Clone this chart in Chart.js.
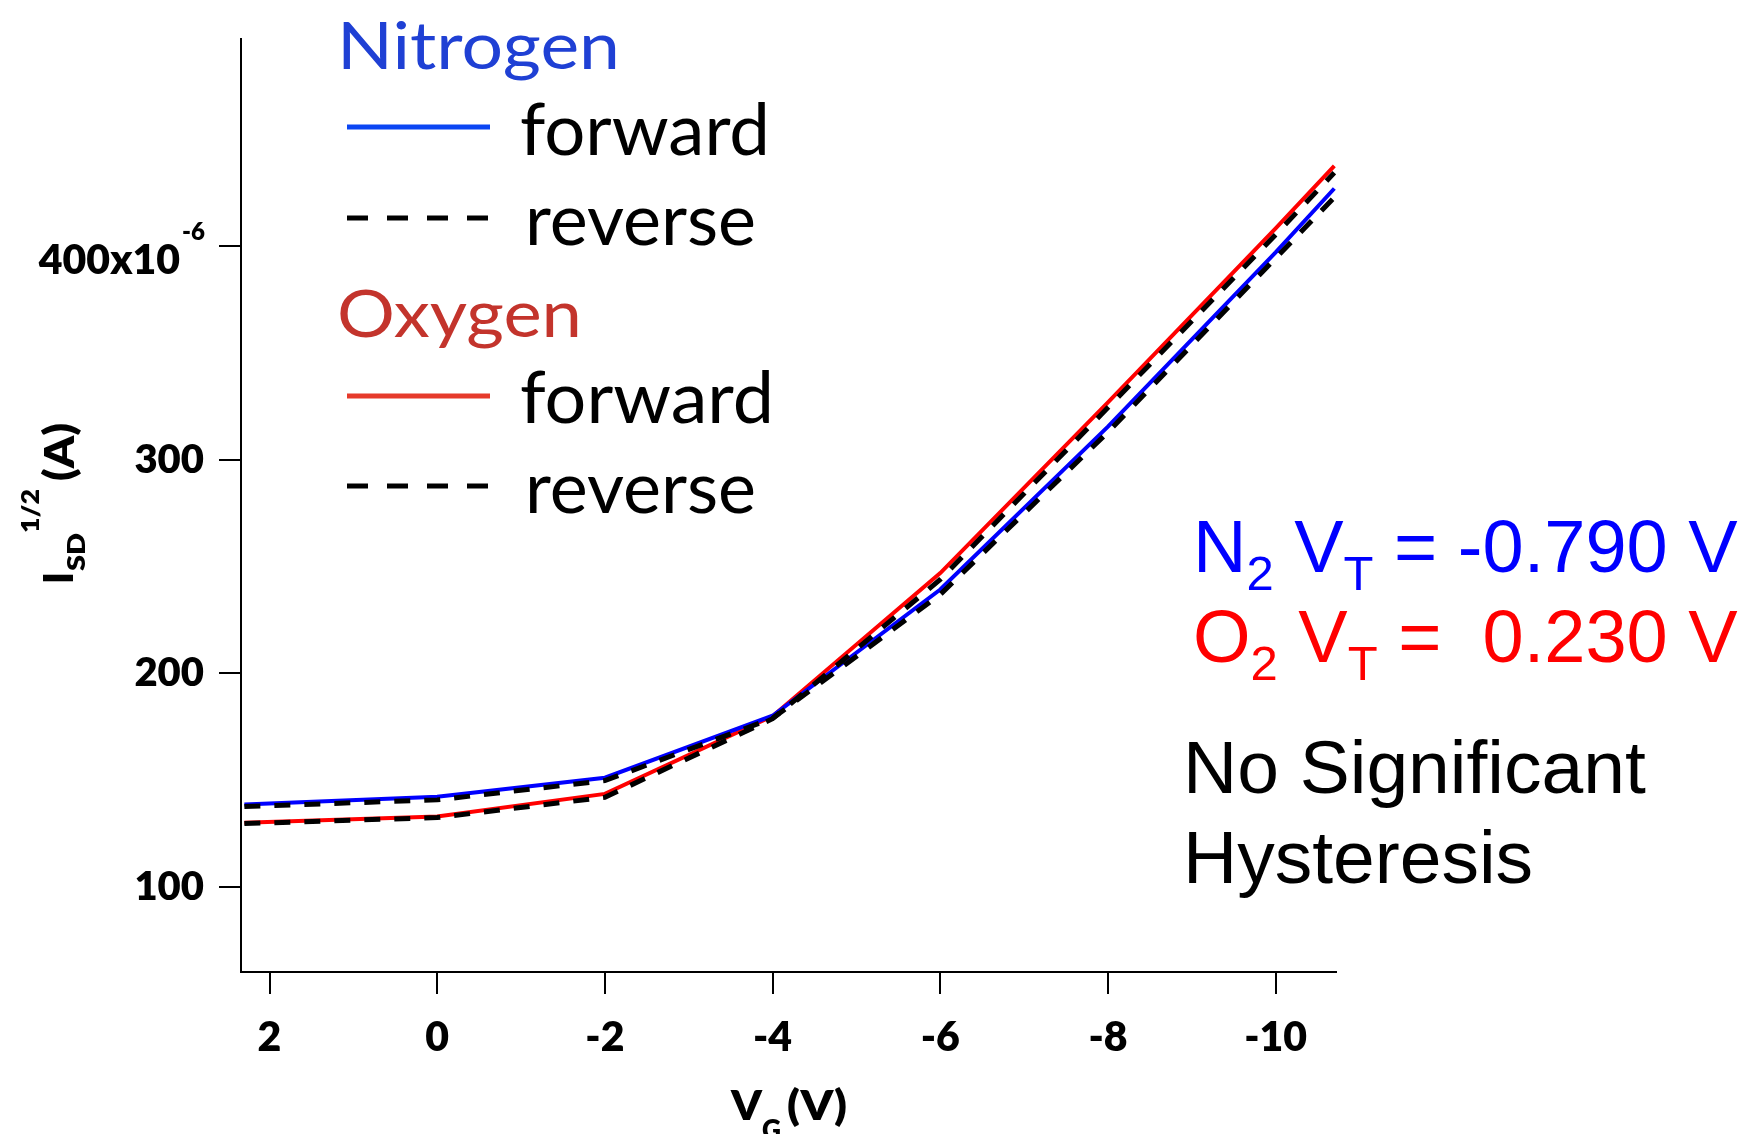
<!DOCTYPE html>
<html>
<head>
<meta charset="utf-8">
<script src="https://cdn.jsdelivr.net/npm/chart.js@4.4.0/dist/chart.umd.min.js"></script>
<style>
  html, body { margin: 0; padding: 0; background: #fff; }
  canvas { display: block; }
</style>
</head>
<body>
<canvas id="myChart" width="1752" height="1134"></canvas>
<script>
// gate voltage sweep (V)
const vg = [2.3, 0, -2, -4, -6, -8, -10, -10.7];
// sqrt(I_SD), in units of 1e-6
const n2Forward = [138.6, 142.3, 151.2, 180.2, 239.3, 315.6, 397.2, 427.1];
const n2Reverse = [137.7, 140.8, 149.8, 179.0, 237.0, 313.0, 394.5, 422.9];
const o2Forward = [130.1, 133.0, 143.6, 180.0, 247.0, 326.9, 408.4, 437.7];
const o2Reverse = [129.7, 132.5, 142.0, 178.8, 244.0, 324.5, 405.5, 434.5];

const xTicks = [2, 0, -2, -4, -6, -8, -10];
const yTicks = [100, 200, 300, 400];

const vtN2 = '-0.790';
const vtO2 = ' 0.230';

function puntos(ys) {
    return vg.map((x, i) => ({x: x, y: ys[i]}));
}

// stretch text to a given width (legend font is wider than anything installed)
function fitText(ctx, text, x, y, w) {
    const m = ctx.measureText(text).width;
    ctx.save();
    ctx.translate(x, y);
    ctx.scale(w / m, 1);
    ctx.fillText(text, 0, 0);
    ctx.restore();
}

const textos = {
    id: 'textos',
    afterDraw(chart) {
        const ctx = chart.ctx;
        const yScale = chart.scales.y;
        ctx.save();
        ctx.textAlign = 'left';
        ctx.textBaseline = 'alphabetic';

        // 400x10^-6 tick label
        const y400 = yScale.getPixelForValue(400);
        ctx.fillStyle = '#000';
        ctx.textAlign = 'right';
        ctx.font = '800 41px Lato';
        ctx.fillText('400x10', 180, y400 + 28);
        ctx.font = '800 24px Lato';
        ctx.fillText('-6', 205, y400 - 6);
        ctx.textAlign = 'left';

        // x title
        ctx.font = '800 41px Lato';
        fitText(ctx, 'V', 731, 1120, 31);
        ctx.font = '800 28px Lato';
        fitText(ctx, 'G', 762, 1140, 19);
        ctx.font = '800 41px Lato';
        fitText(ctx, '(V)', 787, 1120, 60);

        // y title (rotated)
        ctx.save();
        ctx.rotate(-Math.PI / 2);
        ctx.font = '800 41px Lato';
        fitText(ctx, 'I', -584, 73, 12);
        ctx.font = '800 25px Lato';
        fitText(ctx, 'SD', -571, 85, 38);
        fitText(ctx, '1/2', -533, 39, 44);
        ctx.font = '800 41px Lato';
        fitText(ctx, '(A)', -481, 74, 58);
        ctx.restore();

        // legend
        const filas = [
            {head: 'Nitrogen', headColor: '#1f40d4', headY: 69, headW: 283,
             line: '#0b46f3', lineY: 127, fwdY: 155, fwdW: 250, dashY: 218, revY: 245},
            {head: 'Oxygen', headColor: '#c3342c', headY: 337, headW: 245,
             line: '#e63a2b', lineY: 396, fwdY: 423, fwdW: 254, dashY: 486, revY: 513}
        ];
        filas.forEach(f => {
            ctx.fillStyle = f.headColor;
            ctx.font = '66px Lato';
            fitText(ctx, f.head, 337, f.headY, f.headW);
            ctx.lineWidth = 5;
            ctx.strokeStyle = f.line;
            ctx.setLineDash([]);
            ctx.beginPath();
            ctx.moveTo(347, f.lineY);
            ctx.lineTo(490, f.lineY);
            ctx.stroke();
            ctx.strokeStyle = '#000';
            ctx.setLineDash([21, 19]);
            ctx.beginPath();
            ctx.moveTo(347, f.dashY);
            ctx.lineTo(490, f.dashY);
            ctx.stroke();
            ctx.setLineDash([]);
            ctx.fillStyle = '#000';
            ctx.font = '72px Lato';
            fitText(ctx, 'forward', 520, f.fwdY, f.fwdW);
            fitText(ctx, 'reverse', 525, f.revY, 231);
        });

        // threshold voltages
        function vt(gas, value, color, baseline) {
            let x = 1193;
            ctx.fillStyle = color;
            const big = '74px "Liberation Sans"';
            const small = '49px "Liberation Sans"';
            const partes = [
                [gas, big, 0], ['2', small, 18], [' V', big, 0], ['T', small, 18],
                [' = ' + value + ' V', big, 0]
            ];
            partes.forEach(p => {
                ctx.font = p[1];
                ctx.fillText(p[0], x, baseline + p[2]);
                x += ctx.measureText(p[0]).width;
            });
        }
        vt('N', vtN2, '#0000ff', 572);
        vt('O', vtO2, '#ff0000', 662);

        ctx.fillStyle = '#000';
        ctx.font = '75px "Liberation Sans"';
        ctx.fillText('No Significant', 1183, 793);
        ctx.fillText('Hysteresis', 1183, 883);
        ctx.restore();
    }
};

const ctx = document.getElementById('myChart');
const lineaBase = {fill: false, tension: 0, pointRadius: 0, borderWidth: 4};

const myChart = new Chart(ctx, {
    type: 'line',
    data: {
        datasets: [
            Object.assign({}, lineaBase, {label: 'Nitrogen forward', data: puntos(n2Forward), borderColor: '#0000ff', order: 2}),
            Object.assign({}, lineaBase, {label: 'Oxygen forward', data: puntos(o2Forward), borderColor: '#ff0000', order: 2}),
            Object.assign({}, lineaBase, {label: 'Nitrogen reverse', data: puntos(n2Reverse), borderColor: '#000000', borderDash: [16, 14], borderWidth: 5, order: 1}),
            Object.assign({}, lineaBase, {label: 'Oxygen reverse', data: puntos(o2Reverse), borderColor: '#000000', borderDash: [16, 14], borderWidth: 5, order: 1})
        ]
    },
    options: {
        responsive: false,
        animation: false,
        layout: {padding: {left: 0, top: 36, right: 416, bottom: 0}},
        plugins: {legend: {display: false}, tooltip: {enabled: false}},
        scales: {
            x: {
                type: 'linear',
                reverse: true,
                min: -10.72,
                max: 2.34,
                afterBuildTicks: s => { s.ticks = xTicks.map(v => ({value: v})); },
                afterFit: s => { s.height = 162; },
                border: {color: '#000', width: 2},
                grid: {drawOnChartArea: false, color: '#000', lineWidth: 2, tickLength: 22},
                ticks: {
                    font: {family: 'Lato', weight: '800', size: 41},
                    color: '#000', padding: 19, maxRotation: 0, autoSkip: false
                }
            },
            y: {
                min: 60.2,
                max: 497.1,
                afterBuildTicks: s => { s.ticks = yTicks.map(v => ({value: v})); },
                afterFit: s => { s.width = 241; },
                border: {color: '#000', width: 2},
                grid: {drawOnChartArea: false, color: '#000', lineWidth: 2, tickLength: 22},
                ticks: {
                    font: {family: 'Lato', weight: '800', size: 40},
                    color: '#000', padding: 15, autoSkip: false,
                    callback: v => v === 400 ? '' : String(v)
                }
            }
        }
    },
    plugins: [textos]
});
</script>
</body>
</html>
